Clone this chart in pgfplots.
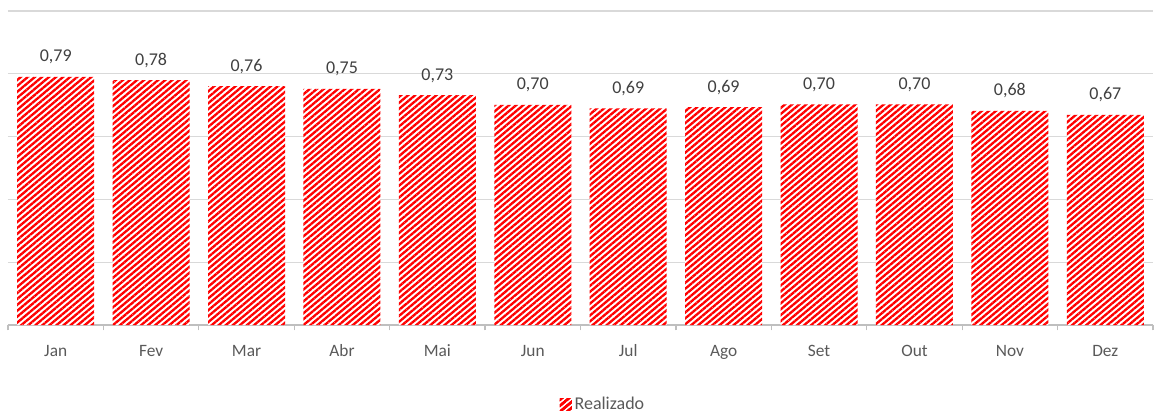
\documentclass[border=0pt]{standalone}
\usepackage{fontspec}
\setmainfont{Carlito}
\usepackage{pgfplots}
\pgfplotsset{compat=1.18}
\usetikzlibrary{patterns.meta,calc}

\definecolor{gridgray}{HTML}{D9D9D9}
\definecolor{axisgray}{HTML}{BFBFBF}
\definecolor{ticktext}{HTML}{595959}
\definecolor{valtext}{HTML}{404040}

\begin{document}
\begin{tikzpicture}
\begin{axis}[
 name=ax,
 scale only axis,
 width=858.75pt,height=235.5pt,
 ybar,bar width=57.75pt,
 xmin=0.5,xmax=12.5,
 ymin=0,ymax=1,
 ytick={0,0.2,0.4,0.6,0.8,1.0},
 yticklabels={},
 ymajorgrids,
 grid style={gridgray,line width=1pt},
 axis x line*=bottom,
 axis y line*=left,
 y axis line style={draw=none},
 ytick style={draw=none},
 x axis line style={axisgray,line width=0.9pt,-},
 xtick={1,...,12},
 xticklabels={Jan,Fev,Mar,Abr,Mai,Jun,Jul,Ago,Set,Out,Nov,Dez},
 major x tick style={draw=none},
 minor xtick={0.5,1.5,...,12.5},
 minor x tick style={axisgray,line width=0.9pt},
 minor tick length=4pt,
 tick align=outside,
 xticklabel style={font=\fontsize{13}{15}\selectfont,text=ticktext,anchor=base,yshift=-19pt},
 nodes near coords,
 nodes near coords style={font=\fontsize{13.5}{15}\selectfont,text=valtext,anchor=base,yshift=11.25pt},
 /pgf/number format/.cd,fixed,fixed zerofill,precision=2,use comma,assume math mode=true,
 /pgfplots/.cd,
 legend style={at={(0.52,-0.253)},anchor=center,draw=none,fill=none,
   font=\fontsize{13.5}{15}\selectfont,text=ticktext,inner sep=0pt},
 legend image code/.code={\fill[white] (0pt,-4.5pt) rectangle (9pt,4.5pt);
   \fill[pattern={Lines[angle=40,distance=3.4pt,line width=1.75pt]},pattern color=red] (0pt,-4.5pt) rectangle (9pt,4.5pt);},
]
\addplot[draw=none,fill=white,
  postaction={pattern={Lines[angle=40,distance=3.4pt,line width=1.75pt]},pattern color=red}]
 coordinates {(1,0.790) (2,0.780) (3,0.761) (4,0.752) (5,0.732) (6,0.701)
  (7,0.690) (8,0.694) (9,0.703) (10,0.703) (11,0.682) (12,0.669)};
\legend{Realizado}
\end{axis}
\pgfresetboundingbox
\path ($(ax.south west)+(-6pt,-66.75pt)$) rectangle ($(ax.north east)+(1.5pt,8.25pt)$);
\end{tikzpicture}
\end{document}
